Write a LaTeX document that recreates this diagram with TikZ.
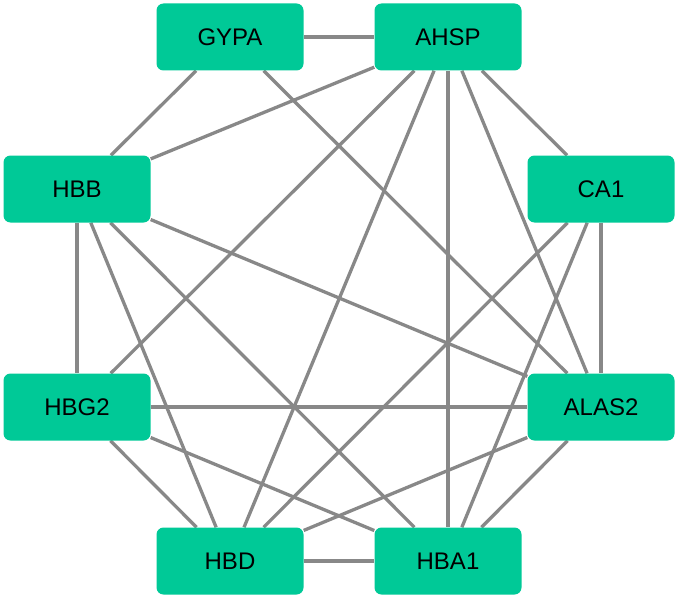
\documentclass[tikz,border=0pt]{standalone}
\usepackage{fontspec}
\setmainfont{Liberation Sans}
\usetikzlibrary{backgrounds}
\definecolor{nodegreen}{RGB}{0,201,151}
\definecolor{edgegray}{RGB}{136,136,136}
\begin{document}
\begin{tikzpicture}[x=1pt,y=-1pt,
  gene/.style={fill=nodegreen, rounded corners=7pt, minimum width=147pt, minimum height=67pt, inner sep=0pt, font=\fontsize{24}{28}\selectfont, text=black},
  link/.style={draw=edgegray, line width=3.3pt}]
\useasboundingbox (0,0) rectangle (679,599);
\node[gene] (GYPA) at (230,37) {GYPA};
\node[gene] (AHSP) at (448,37) {AHSP};
\node[gene] (HBB) at (77,189) {HBB};
\node[gene] (CA1) at (601,189) {CA1};
\node[gene] (HBG2) at (77,407) {HBG2};
\node[gene] (ALAS2) at (601,407) {ALAS2};
\node[gene] (HBD) at (230,561) {HBD};
\node[gene] (HBA1) at (448,561) {HBA1};
\begin{scope}[on background layer]
\draw[link] (GYPA) -- (AHSP);
\draw[link] (GYPA) -- (HBB);
\draw[link] (GYPA) -- (ALAS2);
\draw[link] (AHSP) -- (HBB);
\draw[link] (AHSP) -- (HBG2);
\draw[link] (AHSP) -- (HBD);
\draw[link] (AHSP) -- (HBA1);
\draw[link] (AHSP) -- (ALAS2);
\draw[link] (AHSP) -- (CA1);
\draw[link] (HBB) -- (HBG2);
\draw[link] (HBB) -- (HBD);
\draw[link] (HBB) -- (HBA1);
\draw[link] (HBB) -- (ALAS2);
\draw[link] (CA1) -- (ALAS2);
\draw[link] (CA1) -- (HBD);
\draw[link] (CA1) -- (HBA1);
\draw[link] (HBG2) -- (ALAS2);
\draw[link] (HBG2) -- (HBD);
\draw[link] (HBG2) -- (HBA1);
\draw[link] (HBD) -- (HBA1);
\draw[link] (HBD) -- (ALAS2);
\draw[link] (HBA1) -- (ALAS2);
\end{scope}
\end{tikzpicture}
\end{document}
